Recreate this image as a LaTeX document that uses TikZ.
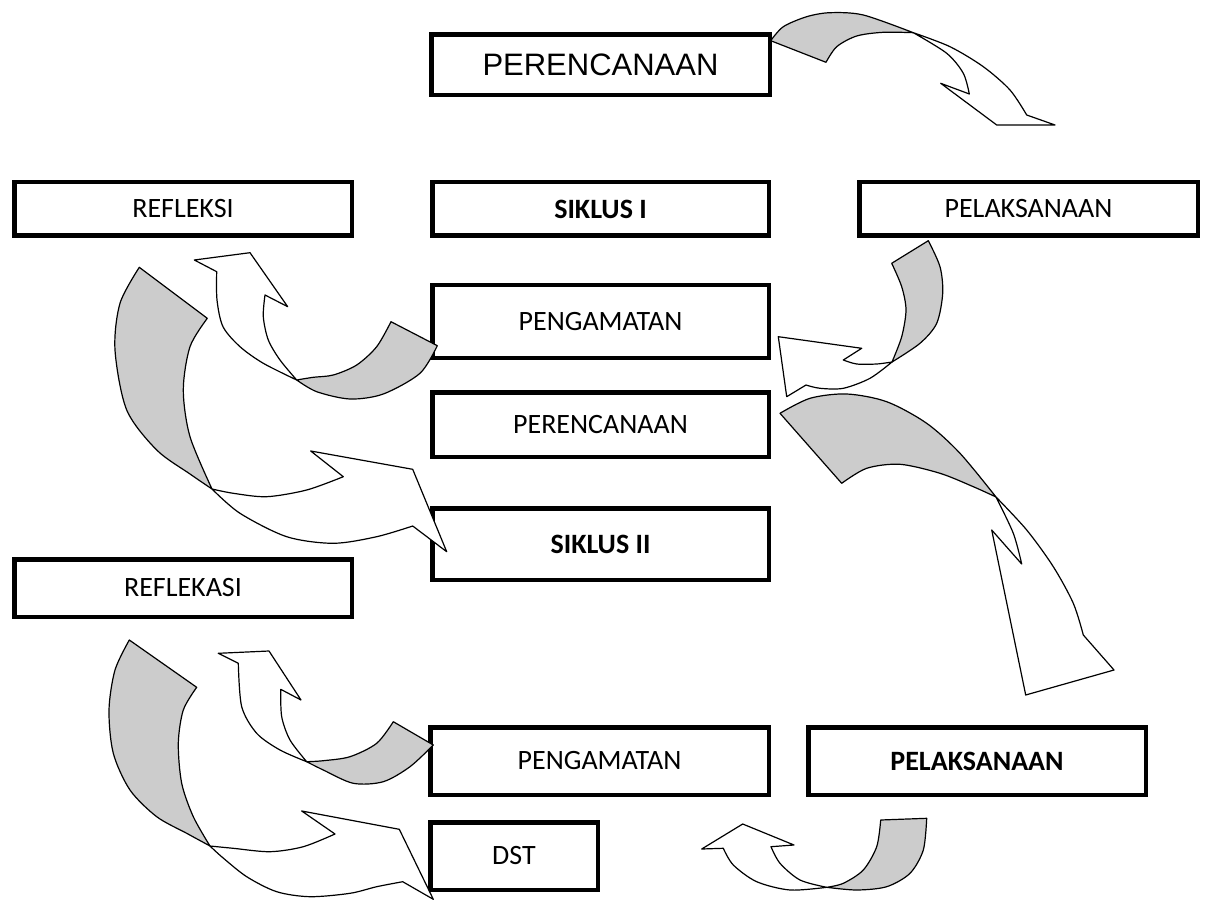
\documentclass[tikz,border=0pt]{standalone}
\usepackage{fontspec}
\setmainfont{Carlito}
\newfontfamily\arialfont{Liberation Sans}
\definecolor{bandgray}{RGB}{204,204,204}
\begin{document}
\begin{tikzpicture}[x=1pt,y=-1pt,
	box/.style={draw,line width=4.5pt,fill=white,inner sep=0pt,font=\fontsize{28}{34}\selectfont},
	back/.style={draw,line width=1.2pt,line join=round,fill=bandgray},
	front/.style={draw,line width=1.2pt,line join=round,fill=white}]
	\useasboundingbox (0,0) rectangle (1207,901);
	% Siklus I
	\node[box,minimum width=338.5pt,minimum height=60.5pt,font=\arialfont\fontsize{31}{36}\selectfont] (per1) at (600.5,65) {PERENCANAAN};
	\node[box,minimum width=337.5pt,minimum height=53.5pt] (refl) at (183,209) {REFLEKSI};
	\node[box,minimum width=336.5pt,minimum height=53.5pt] (sik1) at (600.5,209) {\textbf{SIKLUS I}};
	\node[box,minimum width=338.5pt,minimum height=53.5pt] (pel1) at (1028.5,209) {PELAKSANAAN};
	\node[box,minimum width=336.5pt,minimum height=72.5pt] (pen1) at (600.5,321.5) {PENGAMATAN};
	% Siklus II
	\node[box,minimum width=336.5pt,minimum height=64.5pt] (per2) at (600.5,424.5) {PERENCANAAN};
	\node[box,minimum width=336.5pt,minimum height=71.5pt] (sik2) at (600.5,544) {\textbf{SIKLUS II}};
	\node[box,minimum width=337.5pt,minimum height=57.5pt] (rfk) at (183,588) {REFLEKASI};
	\node[box,minimum width=338.5pt,minimum height=67.5pt] (pen2) at (599.5,761) {PENGAMATAN};
	\node[box,minimum width=337.5pt,minimum height=67.5pt] (pel2) at (977,761) {\textbf{PELAKSANAAN}};
	\node[box,minimum width=167.5pt,minimum height=67.5pt] (dst) at (514,856) {DST};
	% Panah perencanaan -> pelaksanaan
	\draw[back] plot[smooth] coordinates {(770.7,40.7) (783.3,26.7) (806.7,16.7) (830,12.7) (863.3,15) (913.3,32.7)}
		-- plot[smooth] coordinates {(913.3,32.7) (883.3,32.3) (856.7,36) (836.7,46.7) (826,62.3)} -- cycle;
	\draw[front] plot[smooth] coordinates {(913.3,32.7) (950,46.7) (983.3,66.7) (1010,90) (1026.7,115)}
		-- (1055,125) -- (996.7,125) -- (940.7,83.3)
		-- plot[smooth] coordinates {(969.3,94) (963.3,73.3) (946.7,53.3) (913.3,32.7)} -- cycle;
	% Panah pelaksanaan -> pengamatan
	\draw[back] (891.7,263.3) -- plot[smooth] coordinates {(928.3,240.7) (940,266.7) (942.7,293.3) (936.7,323.3) (920,343.3) (892,362)}
		-- plot[smooth] coordinates {(892,362) (901.7,336.7) (906,310) (901.7,286.7) (891.7,263.3)} -- cycle;
	\draw[front] plot[smooth] coordinates {(892,362) (870,378.3) (843.3,388.3) (820,388.3) (806,385)}
		-- (786.7,396.7) -- (778.3,336.7) -- (861.7,348.3)
		-- plot[smooth] coordinates {(843.3,360) (856.7,364) (876.7,364) (892,362)} -- cycle;
	% Panah pengamatan -> refleksi
	\draw[front] plot[smooth] coordinates {(216.7,271.7) (217,300) (223,326.7) (240,346.7) (263.3,363.3) (296.7,380)}
		-- plot[smooth] coordinates {(296.7,380) (280,360) (268.3,340) (263.3,316.7) (265,295)}
		-- (287.7,306.7) -- (250,252.7) -- (194.3,260) -- cycle;
	\draw[back] plot[smooth] coordinates {(296.7,380) (316.7,391.7) (350,399) (383.3,394) (420,373.3) (437.3,345.7)}
		-- plot[smooth] coordinates {(391,321.7) (376.7,346.7) (356.7,365) (333.3,375) (313.3,377.3) (296.7,380)} -- cycle;
	% Panah refleksi -> siklus II
	\draw[back] plot[smooth] coordinates {(139.3,267.3) (120,303.3) (115,350) (126.7,410) (156.7,450) (190,474) (212,489)}
		-- plot[smooth] coordinates {(212,489) (190,436.7) (183.3,390) (190,346.7) (207.3,318.3)} -- cycle;
	\draw[front] plot[smooth] coordinates {(212,489) (240,513.3) (286.7,536.7) (333.3,543.3) (376.7,536.7) (412.7,526)}
		-- (446.7,551.7) -- (412.7,469.3) -- (310.7,451)
		-- plot[smooth] coordinates {(343.3,476.7) (306.7,490) (266.7,496.7) (233.3,493.3) (212,489)} -- cycle;
	% Panah perencanaan II -> pelaksanaan II
	\draw[back] plot[smooth] coordinates {(780,413.3) (810,398.3) (846.7,394) (886.7,401.7) (926.7,423.3) (960,453.3) (996,497)}
		-- plot[smooth] coordinates {(996,497) (973.3,486.7) (940,473.3) (900,464.3) (866.7,468.3) (841.7,483.3)} -- cycle;
	\draw[front] plot[smooth] coordinates {(996,497) (1026.7,530) (1053.3,566.7) (1073.3,603.3) (1083.3,635)}
		-- (1114,670) -- (1025.7,695) -- (991.7,530)
		-- plot[smooth] coordinates {(1021.7,564) (1013.3,533.3) (996,497)} -- cycle;
	% Panah pelaksanaan II -> pengamatan II
	\draw[back] (880.7,820) -- plot[smooth] coordinates {(926.7,818.3) (923.3,850) (910,873.3) (886.7,886.7) (856.7,890) (826.7,887.3)}
		-- plot[smooth] coordinates {(826.7,887.3) (843.3,883.3) (863.3,870) (876.7,846.7) (880.7,820)} -- cycle;
	\draw[front] plot[smooth] coordinates {(826.7,887.3) (790,890) (756.7,881.7) (733.3,865) (723.3,848.3)}
		-- (701.7,849) -- (742.7,824) -- (794,845)
		-- plot[smooth] coordinates {(771,846.7) (780,863.3) (800,880) (826.7,887.3)} -- cycle;
	% Panah pengamatan II -> refleksi II
	\draw[front] plot[smooth] coordinates {(238.3,663.3) (241.7,706.7) (256.7,733.3) (280,750) (306.7,761.7)}
		-- plot[smooth] coordinates {(306.7,761.7) (290,740) (281.7,716.7) (280.7,689.3)}
		-- (301,700) -- (269,651) -- (218.3,653.3) -- cycle;
	\draw[back] plot[smooth] coordinates {(306.7,761.7) (323.3,770) (353.3,783.3) (383.3,781.7) (410,766.7) (433.3,745)}
		-- plot[smooth] coordinates {(393.3,721.7) (376.7,743.3) (350,756.7) (323.3,760.7) (306.7,761.7)} -- cycle;
	% Panah refleksi II -> dst
	\draw[back] plot[smooth] coordinates {(129.3,640) (115,670) (109,710) (113.3,753.3) (130,790) (156.7,816.7) (186.7,833.3) (210,846)}
		-- plot[smooth] coordinates {(210,846) (193.3,816.7) (181.7,783.3) (178.3,743.3) (183.3,710) (196.7,687.3)} -- cycle;
	\draw[front] plot[smooth] coordinates {(210,846) (222,857) (246.7,876.7) (276.7,891.7) (310,896.7) (350,893.3) (376.7,886.7) (402.7,881.7)}
		-- (433.3,899.3) -- (399.3,829.3) -- (301.7,811)
		-- plot[smooth] coordinates {(335,834) (303.3,846.7) (270,851.7) (233.3,848.3) (210,846)} -- cycle;
\end{tikzpicture}
\end{document}
